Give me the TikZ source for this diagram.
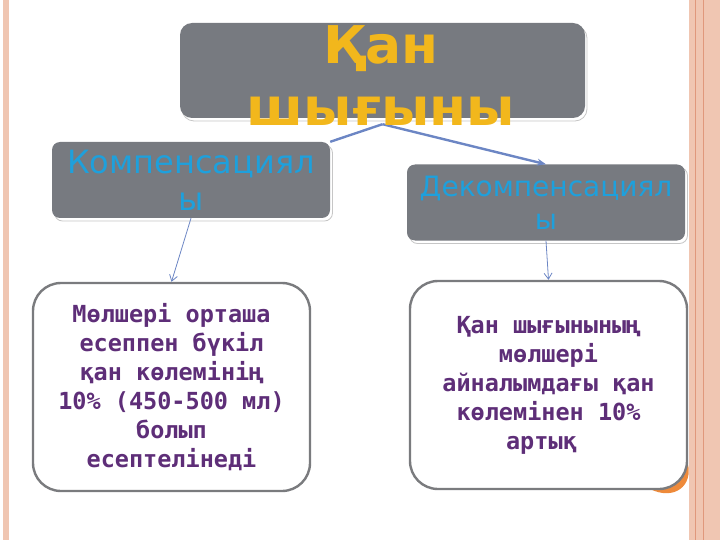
\documentclass[tikz,border=0pt]{standalone}
\usepackage{fontspec}
\setmainfont{DejaVu Sans}
\newfontfamily\plainsans{DejaVu Sans}
\newfontfamily\headsans{DejaVu Sans}[FakeStretch=1.03]
\newfontfamily\codesans{DejaVu Sans Mono}
\usetikzlibrary{shapes}
\usetikzlibrary{shadows}
\usetikzlibrary{positioning}
\usetikzlibrary{arrows.meta}
\definecolor{boxgray}{HTML}{777A80}
\definecolor{titleyellow}{HTML}{F2B71C}
\definecolor{textblue}{HTML}{1EA0DC}
\definecolor{textpurple}{HTML}{5E2E78}
\definecolor{linkblue}{HTML}{6C86C4}
\definecolor{edgegray}{HTML}{7A7B7E}
\definecolor{peach}{HTML}{F0C6B2}
\definecolor{peachline}{HTML}{E0987C}
\definecolor{curlorange}{HTML}{EE8A3A}
\tikzset{
    headbox/.style = {rectangle, rounded corners=12pt, fill=boxgray, minimum width=405pt, minimum height=95pt, inner sep=0pt,
        drop shadow={shadow xshift=2pt, shadow yshift=-3pt, fill=white, draw=gray!45, line width=0.8pt, opacity=1}},
    headtext/.style = {align=center, text=titleyellow, inner sep=0pt, font=\headsans\bfseries\fontsize{52}{62}\selectfont},
    kindbox/.style = {rectangle, rounded corners=8pt, fill=boxgray, minimum width=278pt, minimum height=76pt, inner sep=0pt,
        align=center, text=textblue, drop shadow={shadow xshift=2.5pt, shadow yshift=-3pt, fill=white, draw=gray!45, line width=0.8pt, opacity=1}},
    notebox/.style = {rectangle, rounded corners=28pt, draw=edgegray, line width=2.4pt, fill=white, minimum width=277pt, minimum height=208pt,
        inner sep=0pt, align=center, text=textpurple, font=\codesans\bfseries\fontsize{23.5}{29}\selectfont},
    linkn/.style = {linkblue, line width=2.4pt},
    linka/.style = {-{Stealth[length=9pt,width=7pt]}, linkblue, line width=2.4pt},
    linkt/.style = {-{Straight Barb[length=6pt,width=8pt]}, linkblue, line width=0.8pt},
}

\begin{document}
\begin{tikzpicture}[x=1pt,y=-1pt]
\useasboundingbox (0,0) rectangle (720,540);
% page borders
\fill[peach] (3,0) rectangle (9,540);
\fill[peach] (689,0) rectangle (720,540);
\draw[peachline, line width=1pt] (695,0) -- (695,540);
\draw[peachline, line width=1pt] (703,0) -- (703,540);
%
\node[headbox] at (382.5, 70.5) (headbox) {};
\node[kindbox, font=\plainsans\fontsize{32}{37}\selectfont] at (191, 180) (comp) {Компенсациял\\ы};
\node[kindbox, font=\plainsans\fontsize{28}{33}\selectfont] at (546, 202.5) (decomp) {Декомпенсациял\\ы};
% curl under the corner
\fill[curlorange] (650,489) .. controls (674,501) and (694,486) .. (687.5,462) -- cycle;
\node[notebox] at (171.5, 387) (compnote) {Мөлшері орташа\\есеппен бүкіл\\қан көлемінің\\10\% (450-500 мл)\\болып\\есептелінеді};
\node[notebox] at (548.5, 385) (decompnote) {Қан шығынының\\мөлшері\\айналымдағы қан\\көлемінен 10\%\\артық\phantom{x}};
%
\draw[linkn] ([yshift=-6pt]headbox.south) -- (comp.north east);
\draw[linka] ([yshift=-6pt]headbox.south) -- (decomp.north);
\draw[linkt] (comp.south) -- (compnote.north);
\draw[linkt] (decomp.south) -- (decompnote.north);
\node[headtext] at (381, 76) (loss) {Қан\\шығыны};
\end{tikzpicture}
\end{document}
